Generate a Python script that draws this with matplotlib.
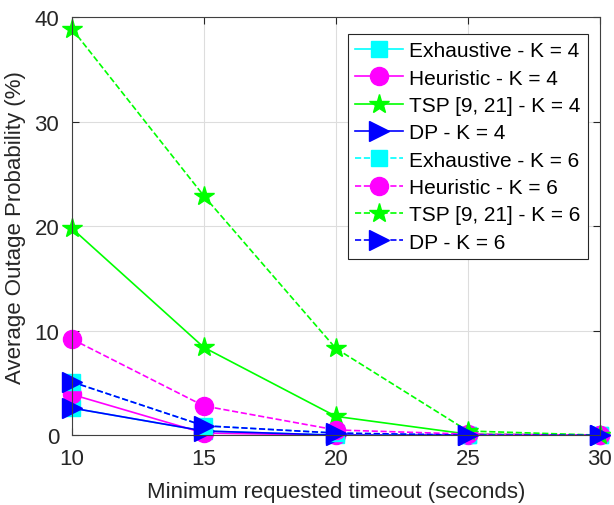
import matplotlib
matplotlib.use("Agg")
import matplotlib.pyplot as plt

plt.rcParams['font.family'] = ['Liberation Sans', 'DejaVu Sans']

# data
timeout = [10, 15, 20, 25, 30]
exh_k4 = [2.6, 0.4, 0.0, 0.0, 0.0]
heu_k4 = [3.9, 0.2, 0.0, 0.0, 0.0]
tsp_k4 = [19.8, 8.4, 1.8, 0.1, 0.0]
dp_k4 = [2.6, 0.4, 0.0, 0.0, 0.0]
exh_k6 = [5.1, 0.9, 0.2, 0.0, 0.0]
heu_k6 = [9.2, 2.8, 0.5, 0.1, 0.0]
tsp_k6 = [38.9, 22.9, 8.3, 0.4, 0.0]
dp_k6 = [5.1, 0.9, 0.2, 0.0, 0.0]

series = [
    (exh_k4, 'Exhaustive - K = 4', 'cyan', 's', '-'),
    (heu_k4, 'Heuristic - K = 4', 'magenta', 'o', '-'),
    (tsp_k4, 'TSP [9, 21] - K = 4', '#00ff00', '*', '-'),
    (dp_k4, 'DP - K = 4', 'blue', '>', '-'),
    (exh_k6, 'Exhaustive - K = 6', 'cyan', 's', '--'),
    (heu_k6, 'Heuristic - K = 6', 'magenta', 'o', '--'),
    (tsp_k6, 'TSP [9, 21] - K = 6', '#00ff00', '*', '--'),
    (dp_k6, 'DP - K = 6', 'blue', '>', '--'),
]
sizes = {'s': 11, 'o': 13, '*': 15, '>': 14}

fig = plt.figure(figsize=(6.14, 5.06), dpi=100)
ax = fig.add_axes([0.117, 0.138, 0.86, 0.826])

for vals, lab, col, mk, ls in series:
    ax.plot(timeout, vals, linestyle=ls, color=col, marker=mk,
            markersize=sizes[mk], linewidth=1.2, label=lab, clip_on=False)

ax.set_xlim(10, 30)
ax.set_ylim(0, 40)
ax.set_xticks([10, 15, 20, 25, 30])
ax.set_yticks([0, 10, 20, 30, 40])
ax.grid(True, color='#dddddd', linewidth=0.8)
ax.set_axisbelow(True)
for s in ax.spines.values():
    s.set_color('#404040')
ax.tick_params(labelsize=16, colors='#262626', direction='in', length=5,
               top=True, right=True, pad=9)
ax.set_xlabel('Minimum requested timeout (seconds)', fontsize=16,
              color='#262626', labelpad=9)
ax.set_ylabel('Average Outage Probability (%)', fontsize=16,
              color='#262626', labelpad=6)

leg = ax.legend(loc='upper right', bbox_to_anchor=(0.985, 0.97), fontsize=15,
                fancybox=False, framealpha=1, edgecolor='#262626',
                handlelength=2.3, borderpad=0.35, labelspacing=0.4,
                handletextpad=0.3, borderaxespad=0.2)
leg.get_frame().set_linewidth(0.8)

fig.savefig('out.png', dpi=100)
